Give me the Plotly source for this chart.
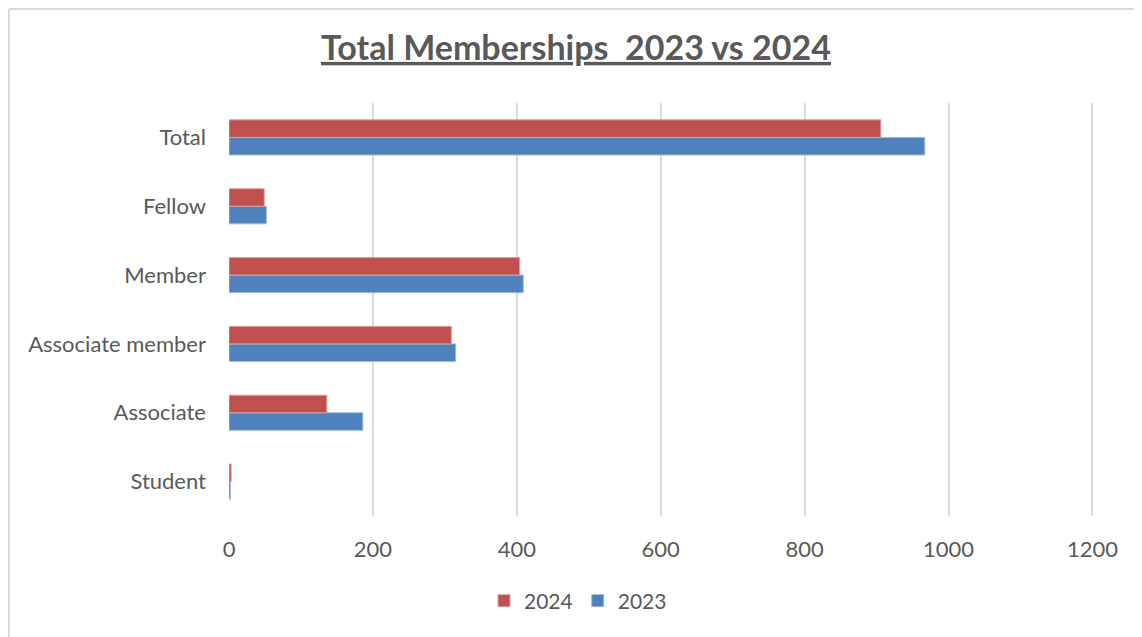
import plotly.graph_objects as go

categories = ["Student", "Associate", "Associate member", "Member", "Fellow", "Total"]
values_2023 = [2, 186, 315, 409, 52, 967]
values_2024 = [3, 136, 309, 404, 49, 906]
x_ticks = [0, 200, 400, 600, 800, 1000, 1200]
x_max = 1205

# the page body has an 8px margin, so work in figure coordinates offset by 8px
OFF = 8
px_per_unit = (1092 - 229) / 1200
W, H = 1142 - OFF, 637 - OFF
L, T = 229 - OFF, 103 - OFF
R = W - (229 + x_max * px_per_unit - OFF)
B = H - (516 - OFF)
pw = W - L - R
ph = H - T - B

fig = go.Figure()
fig.add_trace(go.Bar(y=categories, x=values_2023, name="2023", orientation="h",
                     marker=dict(color="#4F81BD", line=dict(color="#9DB9DE", width=1))))
fig.add_trace(go.Bar(y=categories, x=values_2024, name="2024", orientation="h",
                     marker=dict(color="#C0504D", line=dict(color="#DDA09E", width=1))))

font_family = "Lato, Carlito, 'Liberation Sans', sans-serif"
fig.update_layout(
    width=W, height=H,
    margin=dict(l=L, r=R, t=T, b=B),
    paper_bgcolor="white", plot_bgcolor="white",
    barmode="group", bargap=0.49, bargroupgap=0,
    font=dict(family=font_family, color="#595959", size=22),
    title=dict(text="<b><u>Total Memberships  2023 vs 2024</u></b>",
               x=(576 - OFF) / W, xref="container", xanchor="center",
               y=1 - (48 - OFF) / H, yref="container", yanchor="middle",
               font=dict(size=34, color="#595959", family=font_family)),
    legend=dict(orientation="h", traceorder="reversed",
                x=(578 - OFF) / W, xref="container", xanchor="center",
                y=1 - (601 - OFF) / H, yref="container", yanchor="middle",
                font=dict(size=21, color="#595959"), itemwidth=30),
    showlegend=True,
)
fig.update_xaxes(range=[0, x_max], tickvals=x_ticks, ticktext=[str(v) for v in x_ticks],
                 showgrid=True, gridcolor="#D9D9D9", gridwidth=1.5,
                 zeroline=False, showline=False, ticks="", ticklabelstandoff=18,
                 tickfont=dict(size=22, color="#595959"))
fig.update_yaxes(categoryorder="array", categoryarray=categories,
                 showgrid=False, zeroline=False, showline=False, ticks="",
                 ticklabelstandoff=22, tickfont=dict(size=22, color="#595959"))

# chart border: only the top and left edges of the frame are visible
bx0 = (1 - L) / pw
by1 = (H - B - 1) / ph
by0 = -(B - 0) / ph
bx1 = (W - L) / pw
border = dict(color="#D9D9D9", width=2)
fig.add_shape(type="line", xref="paper", yref="paper", x0=bx0, x1=bx1, y0=by1, y1=by1,
              line=border, layer="below")
fig.add_shape(type="line", xref="paper", yref="paper", x0=bx0, x1=bx0, y0=by0, y1=by1,
              line=border, layer="below")

fig.write_html("out.html")
